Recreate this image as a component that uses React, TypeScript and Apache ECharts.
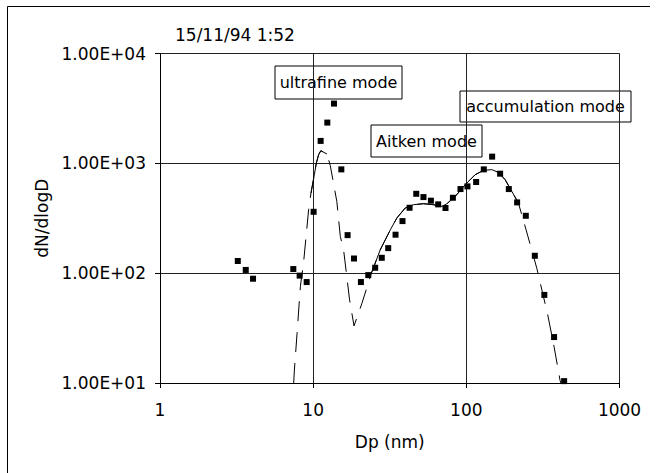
import React, { useEffect, useRef } from "react";
import * as echarts from "echarts";

// Measured size distribution (particle diameter in nm, dN/dlogD)
const measuredDp = [
  3.22, 3.63, 4.05, 7.42, 8.16, 9.07, 10.07, 11.19, 12.37, 13.68, 15.27, 16.78,
  18.48, 20.5, 22.9, 25.4, 28.05, 30.9, 34.5, 38.3, 42.6, 47.1, 52.5, 58.7, 65.5,
  73.1, 81.7, 91.6, 101.7, 115.9, 130, 147.4, 166.2, 189.4, 214.6, 244.5, 280,
  323, 374, 435,
];
const measuredN = [
  129, 107, 89, 109, 95, 83, 362, 1600, 2350, 3500, 881, 222, 136, 83, 96, 112,
  138, 169, 224, 298, 394, 528, 493, 457, 423, 392, 486, 583, 617, 676, 881, 1151,
  805, 583, 441, 333, 144, 63.4, 26.2, 10.4,
];

// Fitted modal curve
const fitDp = [
  7.46, 7.54, 7.85, 8.25, 8.67, 9.34, 9.68, 10.18, 10.49, 10.86, 11.22, 12.31,
  12.94, 14.27, 15.04, 15.8, 17.29, 18.48, 20.83, 24.0, 27.4, 31.9, 35.2, 39.9,
  45.2, 52.5, 61.1, 69.3, 74.7, 84.6, 98.2, 114.2, 129.4, 146.7, 162, 179.2,
  198.2, 218.8, 245.6, 288.4, 340, 374, 409, 414,
];
const fitN = [
  10, 13.1, 28.4, 75.5, 127.6, 378, 537, 788, 1007, 1199, 1303, 1216, 952, 450,
  216, 163, 57.1, 33.1, 53.3, 100, 163, 248, 318, 392, 420, 429, 420, 405, 429,
  500, 638, 788, 863, 876, 827, 710, 555, 435, 248, 111, 41.7, 21.4, 10.6, 10,
];
// Diameter ranges where the fit is drawn solid (fitted range); dashed elsewhere
const solidRanges = [
  [9.68, 12.31],
  [24.0, 218.8],
];

// Axis tick labels
const xTickLabels = ["1", "10", "100", "1000"];
const yTickLabels = ["1.00E+01", "1.00E+02", "1.00E+03", "1.00E+04"];

const titleText = "15/11/94 1:52";
const modeLabels = ["ultrafine mode", "Aitken mode", "accumulation mode"];

const FONT = '"DejaVu Sans", sans-serif';

export default function App() {
  const ref = useRef<HTMLDivElement>(null);

  useEffect(() => {
    if (!ref.current) return;
    const chart = echarts.init(ref.current, undefined, { renderer: "svg" });

    const fitData = fitDp.map((d, i) => [d, fitN[i]]);
    const solidData: (number[] | null)[] = [];
    solidRanges.forEach(([a, b], r) => {
      if (r > 0) solidData.push(null);
      fitDp.forEach((d, i) => {
        if (d >= a && d <= b) solidData.push([d, fitN[i]]);
      });
    });
    const pointData = measuredDp.map((d, i) => [d, measuredN[i]]);

    const labelBox = (
      x: number,
      y: number,
      w: number,
      h: number,
      text: string
    ) => ({
      type: "group",
      z: 100,
      children: [
        {
          type: "rect",
          shape: { x, y, width: w, height: h },
          style: { fill: "#fff", stroke: "#000", lineWidth: 1 },
        },
        {
          type: "text",
          x: x + w / 2,
          y: y + h / 2,
          style: {
            text,
            font: `16px ${FONT}`,
            fill: "#000",
            textAlign: "center",
            textVerticalAlign: "middle",
          },
        },
      ],
    });

    chart.setOption({
      animation: false,
      backgroundColor: "#fff",
      grid: { left: 160, right: 47.5, top: 53.5, bottom: 90 },
      xAxis: {
        type: "log",
        logBase: 10,
        min: 1,
        max: 1000,
        name: "Dp (nm)",
        nameLocation: "middle",
        nameGap: 50,
        nameTextStyle: { fontFamily: FONT, fontSize: 17, color: "#000" },
        axisLine: { onZero: false, lineStyle: { color: "#000", width: 1 } },
        axisTick: { show: true, length: 5, lineStyle: { color: "#000" } },
        axisLabel: {
          margin: 18,
          fontFamily: FONT,
          fontSize: 17,
          color: "#000",
          formatter: (v: number) => xTickLabels[Math.round(Math.log10(v))] ?? "",
        },
        splitLine: { show: true, lineStyle: { color: "#222", width: 1 } },
        minorTick: { show: false },
      },
      yAxis: {
        type: "log",
        logBase: 10,
        min: 10,
        max: 10000,
        name: "dN/dlogD",
        nameLocation: "middle",
        nameGap: 108,
        nameRotate: 90,
        nameTextStyle: { fontFamily: FONT, fontSize: 17, color: "#000" },
        axisLine: { onZero: false, lineStyle: { color: "#000", width: 1 } },
        axisTick: { show: true, length: 5, lineStyle: { color: "#000" } },
        axisLabel: {
          margin: 14,
          fontFamily: FONT,
          fontSize: 17,
          color: "#000",
          formatter: (v: number) =>
            yTickLabels[Math.round(Math.log10(v)) - 1] ?? "",
        },
        splitLine: { show: true, lineStyle: { color: "#222", width: 1 } },
        minorTick: { show: false },
      },
      graphic: [
        {
          type: "line",
          shape: { x1: 7.5, y1: 6.5, x2: 7.5, y2: 473 },
          style: { stroke: "#000", lineWidth: 1 },
        },
        {
          type: "line",
          shape: { x1: 7.5, y1: 6.5, x2: 650, y2: 6.5 },
          style: { stroke: "#000", lineWidth: 1 },
        },
        {
          type: "text",
          x: 175,
          y: 35,
          style: {
            text: titleText,
            font: `17px ${FONT}`,
            fill: "#000",
            textAlign: "left",
            textVerticalAlign: "middle",
          },
        },
        labelBox(275, 66, 127, 33, modeLabels[0]),
        labelBox(371, 125, 111, 32, modeLabels[1]),
        labelBox(460, 91, 171, 31, modeLabels[2]),
      ],
      series: [
        {
          type: "line",
          data: fitData,
          showSymbol: false,
          symbol: "none",
          lineStyle: { color: "#000", width: 1, type: [20, 11] },
          z: 2,
        },
        {
          type: "line",
          data: solidData,
          showSymbol: false,
          symbol: "none",
          connectNulls: false,
          lineStyle: { color: "#000", width: 1, type: "solid" },
          z: 3,
        },
        {
          type: "scatter",
          data: pointData,
          symbol: "rect",
          symbolSize: 6,
          itemStyle: { color: "#000", opacity: 1 },
          z: 4,
        },
      ],
    });

    return () => chart.dispose();
  }, []);

  return (
    <div
      ref={ref}
      style={{
        position: "absolute",
        left: 0,
        top: 0,
        width: 667,
        height: 473,
        background: "#fff",
      }}
    />
  );
}
